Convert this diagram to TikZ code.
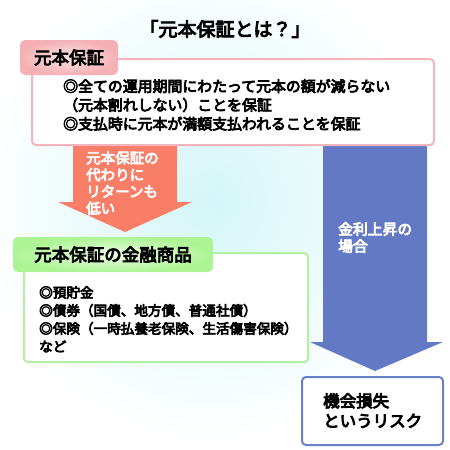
\documentclass[tikz,border=0pt]{standalone}
\usepackage{fontspec}
\setmainfont{Noto Sans CJK JP}[UprightFeatures={FakeBold=5}]
\definecolor{bgcyan}{HTML}{D4F6F8}
\definecolor{pinkline}{HTML}{F4B4BC}
\definecolor{pinkout}{HTML}{F4B0B4}
\definecolor{pinkin}{HTML}{FCE4E4}
\definecolor{greenline}{HTML}{B4F0A4}
\definecolor{greenout}{HTML}{ACF494}
\definecolor{greenin}{HTML}{EEFFE8}
\definecolor{salmon}{HTML}{F87E68}
\definecolor{bluearrow}{HTML}{6479C6}
\definecolor{blueline}{HTML}{6A80C8}
\tikzset{
  txt/.style={anchor=north west, inner sep=0pt, align=left},
  pinktab/.style={rounded corners=5pt, inner color=pinkin, outer color=pinkout, minimum width=98pt, minimum height=35pt, inner sep=0pt, font=\fontsize{17.5}{20}\selectfont},
  greentab/.style={rounded corners=5pt, inner color=greenin, outer color=greenout, minimum width=200pt, minimum height=35pt, inner sep=0pt, font=\fontsize{17.5}{20}\selectfont},
}
\begin{document}
\begin{tikzpicture}[x=1pt,y=-1pt]
\useasboundingbox (0,0) rectangle (450,450);
\fill[white] (0,0) rectangle (450,450);
\shade[inner color=bgcyan, outer color=white] (-20,-40) rectangle (440,440);
% title
\node[font=\fontsize{19}{21}\selectfont, inner sep=0pt] (title) at (225,29) {「元本保証とは？」};
% arrows
\fill[salmon] (73,140) -- (177,140) -- (177,202) -- (192,202) -- (125,232) -- (58,202) -- (73,202) -- cycle;
\fill[bluearrow] (323,140) -- (427,140) -- (427,342) -- (443,342) -- (375,371) -- (310,342) -- (323,342) -- cycle;
% pink box
\draw[pinkline, line width=2pt, rounded corners=4pt, fill=white] (32,59) rectangle (434,145);
\node[pinktab] (ptab) at (69,57.5) {元本保証};
\node[txt, font=\fontsize{14.9}{18.8}\selectfont] (ptext) at (63,79)
  {◎全ての運用期間にわたって元本の額が減らない\\（元本割れしない）ことを保証\\◎支払時に元本が満額支払われることを保証};
% orange text
\node[txt, text=white, font=\fontsize{14.5}{16.8}\selectfont] (otext) at (86,151)
  {元本保証の\\代わりに\\リターンも\\低い};
% blue text
\node[txt, text=white, font=\fontsize{14.8}{17}\selectfont] (btext) at (338,222)
  {金利上昇の\\場合};
% green box
\draw[greenline, line width=2pt, rounded corners=4pt, fill=white] (24,253) rectangle (308,362);
\node[greentab] (gtab) at (113,254.5) {元本保証の金融商品};
\node[txt, font=\fontsize{13.6}{18}\selectfont] (gtext) at (39,286)
  {◎預貯金\\◎債券（国債、地方債、普通社債）\\◎保険（一時払養老保険、生活傷害保険）\\など};
% risk box
\draw[blueline, line width=2pt, rounded corners=4pt, fill=white] (302,377) rectangle (443,445);
\node[txt, font=\fontsize{16.5}{20}\selectfont] (rtext) at (323,393)
  {機会損失\\というリスク};
\end{tikzpicture}
\end{document}
